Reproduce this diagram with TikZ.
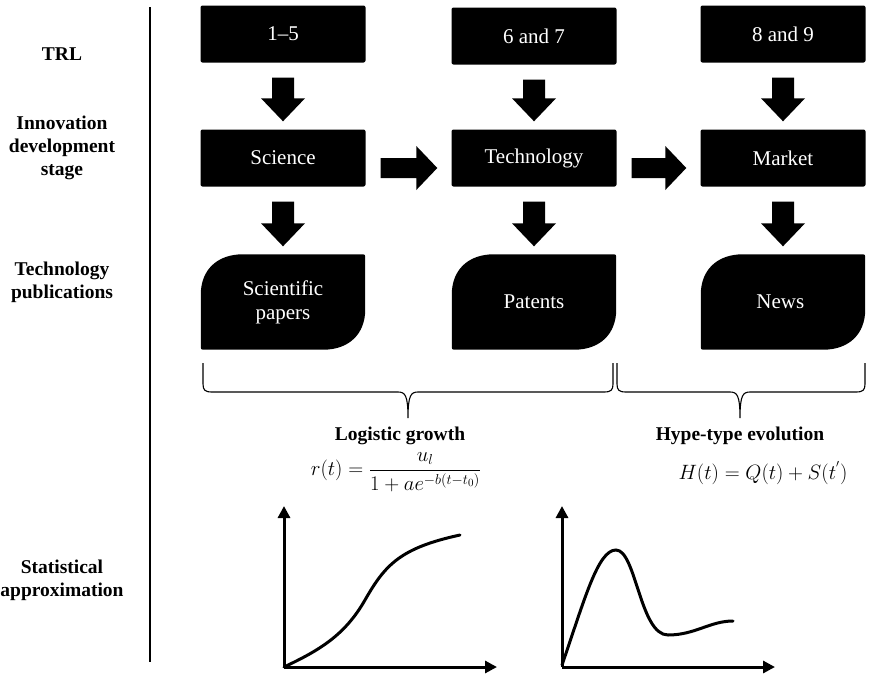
\documentclass[tikz,border=0pt]{standalone}
\usepackage{amsmath}
\usepackage{fontspec}
\setmainfont{Liberation Serif}
\usetikzlibrary{arrows.meta,backgrounds,calc}

% block arrows between two nodes
\newcommand{\blockdown}[2]{%
	\fill let \p1=(#1.south), \p2=(#2.north) in
		(\x1-11pt,\y1-15pt) -- (\x1+11pt,\y1-15pt) -- (\x1+11pt,\y2+31pt) -- (\x1+22pt,\y2+31pt)
		-- (\x1,\y2+8pt) -- (\x1-22pt,\y2+31pt) -- (\x1-11pt,\y2+31pt) -- cycle;}
\newcommand{\blockright}[2]{%
	\fill let \p1=(#1.east), \p2=(#2.west) in
		(\x1+15pt,\y1) -- (\x2-35pt,\y1) -- (\x2-35pt,\y1+12pt) -- (\x2-14pt,\y1-10pt)
		-- (\x2-35pt,\y1-32pt) -- (\x2-35pt,\y1-20pt) -- (\x1+15pt,\y1-20pt) -- cycle;}
% curly brace opening downwards
\newcommand{\bracebelow}[3]{%
	\draw[line width=1.1pt] (#1,363) -- (#1,384) .. controls (#1,390) and (#1+2,392) .. (#1+9,392)
		-- (#3-10,392) .. controls (#3-3,392) and (#3,395) .. (#3,418)
		.. controls (#3,395) and (#3+3,392) .. (#3+10,392)
		-- (#2-9,392) .. controls (#2-2,392) and (#2,390) .. (#2,384) -- (#2,363);}

\begin{document}
\begin{tikzpicture}
		[
			x=1pt, y=-1pt,
			box/.style={rectangle, fill=black, text=white, rounded corners=2pt,
				minimum width=165pt, minimum height=57pt, font=\fontsize{21}{24}\selectfont},
			pub/.style={rectangle, text=white, align=center,
				minimum width=164pt, minimum height=95pt, font=\fontsize{21}{24}\selectfont},
			lab/.style={align=center, font=\bfseries\fontsize{19.5}{23}\selectfont},
			axis/.style={line width=3pt, -{Triangle[width=12pt,length=12pt]}},
			curve/.style={line width=3pt, line cap=round},
		]

		\useasboundingbox (0,0) rectangle (894,678);

		% Row labels
		\foreach \name/\y/\text in
		{
			trl/54/TRL,
			ids/148/Innovation\\development\\stage,
			tpub/282/Technology\\publications,
			stat/580/Statistical\\approximation
		}
			\node[lab] (\name) at (62,\y) {\text};

		\draw[line width=1.2pt] (150,7) -- (150,662);

		% Nodes
		\foreach \style/\name/\x/\y/\text in
		{
			box/t1/283/34/1--5,
			box/t2/534/36/6 and 7,
			box/t3/783/34/8 and 9,
			box/sci/283/158/Science,
			box/tec/534/158/Technology,
			box/mar/783/158/Market,
			pub/pap/283/302/Scientific\\papers,
			pub/pat/534/302/Patents,
			pub/new/783/302/News
		}
			\node[\style] (\name) at (\x,\y) {\text};

		% Publication shapes
		\begin{scope}[on background layer]
			\foreach \n in {pap, pat, new}
				\fill[rounded corners=2pt] (\n.south west) -- ([yshift=-42pt]\n.north west) [sharp corners]
					.. controls ([yshift=-16pt]\n.north west) and ([xshift=16pt]\n.north west) .. ([xshift=42pt]\n.north west)
					[rounded corners=2pt] -- (\n.north east) -- ([yshift=42pt]\n.south east) [sharp corners]
					.. controls ([yshift=16pt]\n.south east) and ([xshift=-16pt]\n.south east) .. ([xshift=-42pt]\n.south east)
					[rounded corners=2pt] -- cycle;
		\end{scope}

		% Block arrows
		\foreach \u/\v in {t1/sci, t2/tec, t3/mar, sci/pap, tec/pat, mar/new}
			{\blockdown{\u}{\v}}
		\foreach \u/\v in {sci/tec, tec/mar}
			{\blockright{\u}{\v}}

		% Braces
		\bracebelow{203}{613}{408}
		\bracebelow{617}{865}{740}

		% Models
		\node[lab, inner sep=1pt] (lg) at (400,436) {Logistic growth};
		\node[lab, inner sep=1pt] (hy) at (740,436) {Hype-type evolution};
		\node[font=\fontsize{21}{24}\selectfont, inner sep=1pt] (lgf) at (396,472) {$r(t)=\dfrac{u_l}{1+ae^{-b(t-t_0)}}$};
		\node[font=\fontsize{22}{24}\selectfont, inner sep=1pt] (hyf) at (763,473) {$H(t)=Q(t)+S(t^{'})$};

		% Graphs
		\coordinate (o1) at (284,667);
		\coordinate (o2) at (562,667);
		\foreach \o in {o1, o2}
		{
			\draw[axis] (\o) -- ++(0,-161);
			\draw[axis] (\o) -- ++(213,0);
		}
		\draw[curve] (o1) .. controls (320,650) and (345,635) .. (365,600)
			.. controls (385,565) and (400,548) .. (460,535);
		\draw[curve] ([yshift=2pt]o2) .. controls (585,598) and (598,550) .. (616,550)
			.. controls (636,550) and (640,635) .. (668,635)
			.. controls (695,635) and (710,621) .. (733,621);

\end{tikzpicture}
\end{document}
